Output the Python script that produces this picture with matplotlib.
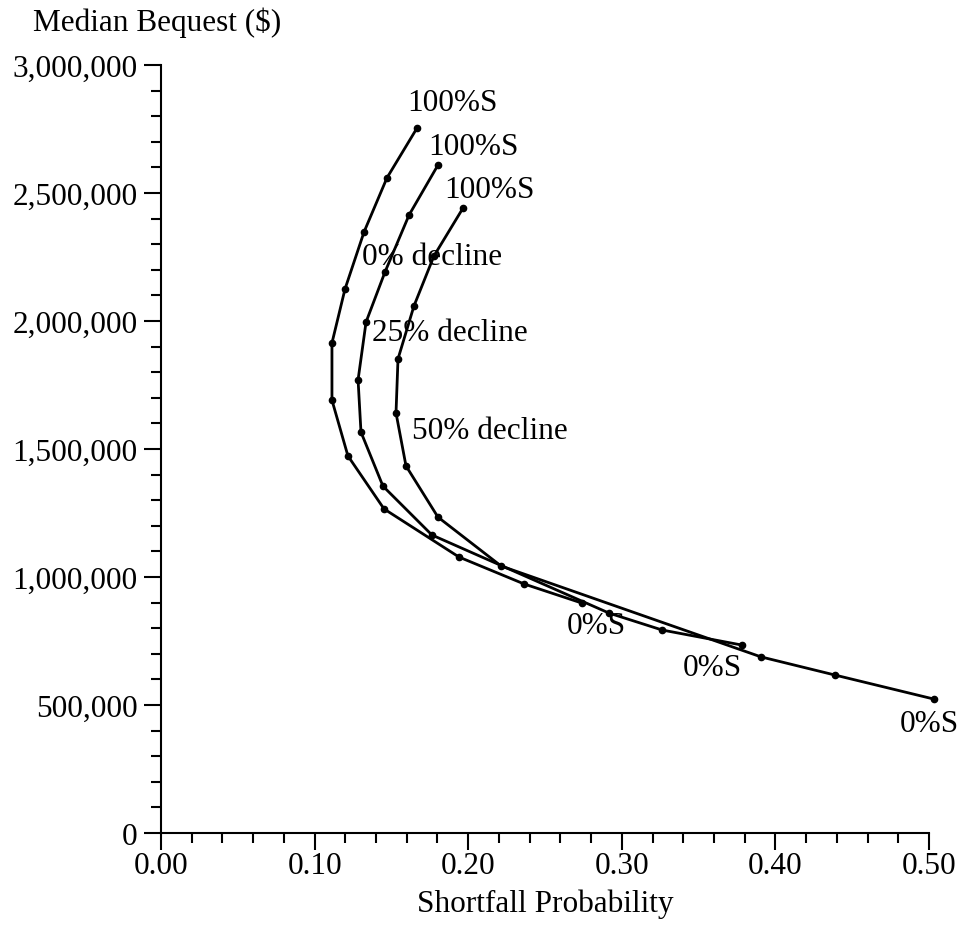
import matplotlib
matplotlib.use("Agg")
import matplotlib.pyplot as plt
from matplotlib.ticker import FuncFormatter, MultipleLocator

plt.rcParams['font.family'] = ['Liberation Serif', 'DejaVu Serif']

# Shortfall probability / median bequest, from 100% stocks down to 0% stocks
prob_0 = [0.1667, 0.1471, 0.1322, 0.1198, 0.1113, 0.1113, 0.1217, 0.1452, 0.1940, 0.2363, 0.2741]
beq_0 = [2754000, 2559000, 2348000, 2125000, 1914000, 1691000, 1473000, 1266000, 1078000, 973000, 898000]

prob_25 = [0.1803, 0.1615, 0.1458, 0.1335, 0.1283, 0.1302, 0.1445, 0.1764, 0.2917, 0.3262, 0.3783]
beq_25 = [2609000, 2414000, 2191000, 1996000, 1770000, 1566000, 1355000, 1164000, 859000, 793000, 734000]

prob_50 = [0.1966, 0.1777, 0.1647, 0.1543, 0.1530, 0.1595, 0.1803, 0.2214, 0.3906, 0.4388, 0.5033]
beq_50 = [2441000, 2254000, 2059000, 1852000, 1641000, 1434000, 1234000, 1043000, 688000, 617000, 523000]

curves = [
    (prob_0, beq_0, (35, 25), (14, -22)),
    (prob_25, beq_25, (36, 19), (-30, -22)),
    (prob_50, beq_50, (27, 19), (-5, -24)),
]

decline_labels = ['0% decline', '25% decline', '50% decline']
decline_pos = [(0.1764, 2250000), (0.1882, 1957000), (0.2142, 1574000)]

fs = 22.5

fig = plt.figure(figsize=(9.63, 9.37), dpi=100)
ax = fig.add_axes([161 / 963, 1 - 834 / 937, 768 / 963, 768 / 937])

for xs, ys, top_off, bot_off in curves:
    ax.plot(xs, ys, color='black', lw=2, marker='o', markersize=4.5, clip_on=False)
    ax.annotate('100%S', (xs[0], ys[0]), xytext=top_off, textcoords='offset pixels',
                ha='center', va='center', fontsize=fs, annotation_clip=False)
    ax.annotate('0%S', (xs[-1], ys[-1]), xytext=bot_off, textcoords='offset pixels',
                ha='center', va='center', fontsize=fs, annotation_clip=False)

for label, (x, y) in zip(decline_labels, decline_pos):
    ax.text(x, y, label, ha='center', va='center', fontsize=fs)

ax.set_xlim(0, 0.5)
ax.set_ylim(0, 3000000)
ax.xaxis.set_major_locator(MultipleLocator(0.1))
ax.xaxis.set_minor_locator(MultipleLocator(0.02))
ax.yaxis.set_major_locator(MultipleLocator(500000))
ax.yaxis.set_minor_locator(MultipleLocator(100000))
ax.xaxis.set_major_formatter(FuncFormatter(lambda v, p: f'{v:.2f}'))
ax.yaxis.set_major_formatter(FuncFormatter(lambda v, p: f'{v:,.0f}'))

for side in ['top', 'right']:
    ax.spines[side].set_visible(False)
for side in ['left', 'bottom']:
    ax.spines[side].set_linewidth(1.5)

ax.tick_params(which='major', length=12, width=1.5, labelsize=fs, direction='out', pad=5)
ax.tick_params(axis='x', which='major', pad=1)
ax.tick_params(which='minor', length=7, width=1.5, direction='out')

ax.set_xlabel('Shortfall Probability', fontsize=fs, labelpad=6)
fig.text(157 / 963, 1 - 23 / 937, 'Median Bequest ($)', ha='center', va='center', fontsize=fs)

fig.savefig('out.png', dpi=100)
